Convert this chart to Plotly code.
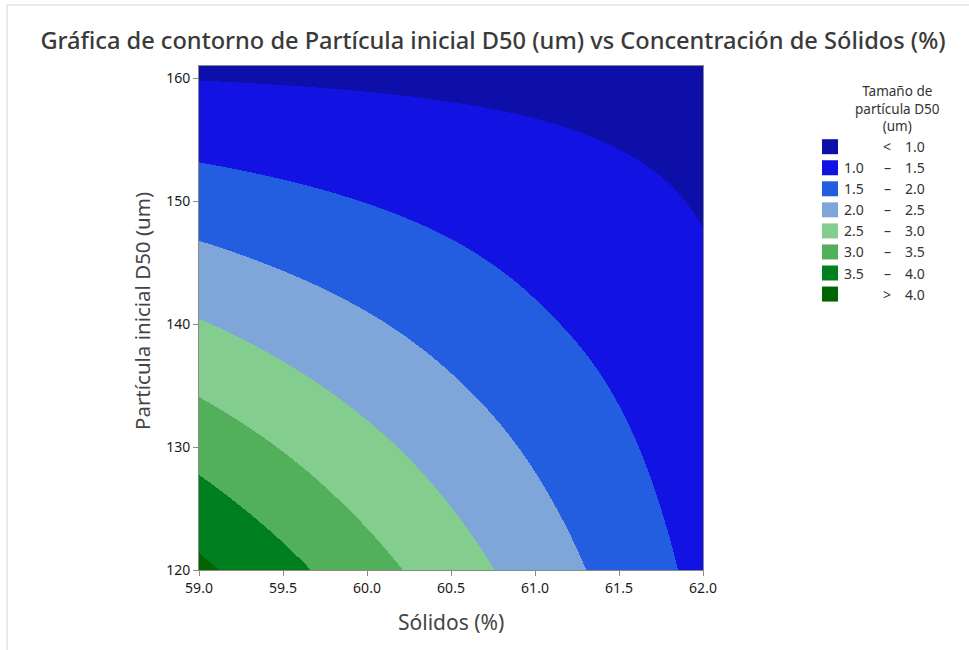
import plotly.graph_objects as go

# Grid of the response surface: Sólidos (%) on x, Partícula inicial D50 (um) on y
solidos = [59.0, 59.5, 60.0, 60.5, 61.0, 61.5, 62.0]
particula = [120, 125, 130, 135, 140, 145, 150, 155, 160, 161]

# Tamaño de partícula D50 (um), one row per value of `particula`
d50 = [
    [4.110, 3.652, 3.194, 2.736, 2.278, 1.820, 1.362],
    [3.717, 3.313, 2.910, 2.507, 2.104, 1.700, 1.297],
    [3.323, 2.975, 2.626, 2.278, 1.929, 1.581, 1.232],
    [2.930, 2.636, 2.342, 2.048, 1.755, 1.461, 1.167],
    [2.536, 2.297, 2.058, 1.819, 1.570, 1.335, 1.102],
    [2.143, 1.958, 1.774, 1.590, 1.400, 1.218, 1.037],
    [1.749, 1.620, 1.490, 1.361, 1.231, 1.102, 0.972],
    [1.360, 1.285, 1.210, 1.134, 1.058, 0.982, 0.907],
    [0.988, 0.966, 0.943, 0.918, 0.893, 0.868, 0.842],
    [0.905, 0.893, 0.881, 0.868, 0.856, 0.843, 0.829],
]

# contour bands (lower edge of each band, first band open below)
niveles = [0.5, 1.0, 1.5, 2.0, 2.5, 3.0, 3.5, 4.0, 4.5]
colores = ["#0E0EA8", "#1212E2", "#235EE0", "#7FA6D8",
           "#83CD8F", "#52AF5A", "#007F1E", "#006400"]
etiquetas_izq = ["", "1.0", "1.5", "2.0", "2.5", "3.0", "3.5", ""]
etiquetas_sep = ["<", "–", "–", "–", "–", "–", "–", ">"]
etiquetas_der = ["1.0", "1.5", "2.0", "2.5", "3.0", "3.5", "4.0", "4.0"]

xticks = [59.0, 59.5, 60.0, 60.5, 61.0, 61.5, 62.0]
yticks = [120, 130, 140, 150, 160]

W, H = 969, 650
L, R, T, B = 199, 703, 66, 570   # plot area in pixels

def px(x):
    return (x - L) / (R - L)

def py(y):
    return (B - y) / (B - T)

# stepwise colour scale: one flat colour per band
zmin, zmax = niveles[0], niveles[-1]
escala = []
for i, c in enumerate(colores):
    f0 = (niveles[i] - zmin) / (zmax - zmin)
    f1 = (niveles[i + 1] - zmin) / (zmax - zmin)
    escala += [[f0, c], [f1, c]]

# filled bands drawn from the bilinearly interpolated surface
fig = go.Figure(go.Heatmap(
    x=solidos, y=particula, z=d50,
    zmin=zmin, zmax=zmax, colorscale=escala,
    zsmooth="best", showscale=False, hoverinfo="skip",
))

font_ui = "Noto Sans, Open Sans, sans-serif"

fig.update_layout(
    width=W, height=H,
    margin=dict(l=L, r=W - R, t=T, b=H - B),
    paper_bgcolor="white", plot_bgcolor="white",
    font=dict(family=font_ui, color="#222222"),
    showlegend=False,
    title=dict(
        text="Gráfica de contorno de Partícula inicial D50 (um) vs Concentración de Sólidos (%)",
        x=493 / W, xanchor="center", y=1 - 41 / H, yanchor="middle",
        yref="container", xref="container",
        font=dict(size=23.6, color="#3a3a3a", family=font_ui, weight=500),
    ),
    xaxis=dict(
        range=[solidos[0], solidos[-1]], tickvals=xticks,
        ticktext=[f"{v:.1f}" for v in xticks],
        ticks="outside", ticklen=5, tickcolor="#8a8a8a",
        showline=True, linecolor="#8a8a8a", linewidth=1, mirror=True,
        showgrid=False, zeroline=False,
        tickfont=dict(size=14, color="#1a1a1a"),
    ),
    yaxis=dict(
        range=[particula[0], particula[-1]], tickvals=yticks,
        ticks="outside", ticklen=5, tickcolor="#8a8a8a",
        showline=True, linecolor="#8a8a8a", linewidth=1, mirror=True,
        showgrid=False, zeroline=False,
        tickfont=dict(size=14, color="#1a1a1a"),
    ),
)

anns = []
shapes = []

# axis titles
anns.append(dict(text="Sólidos (%)", x=px(451), y=py(622), xref="paper", yref="paper",
                 showarrow=False, xanchor="center", yanchor="middle",
                 font=dict(size=21, color="#444444")))
anns.append(dict(text="Partícula inicial D50 (um)", x=px(142), y=py(311),
                 xref="paper", yref="paper", textangle=-90,
                 showarrow=False, xanchor="center", yanchor="middle",
                 font=dict(size=20.5, color="#444444")))

# legend title
anns.append(dict(text="Tamaño de<br>partícula D50<br>(um)", x=px(897), y=py(108),
                 xref="paper", yref="paper", showarrow=False,
                 xanchor="center", yanchor="middle", align="center",
                 font=dict(size=13.5, color="#333333")))

# legend entries
for i, c in enumerate(colores):
    yc = 146.7 + i * 21.05
    shapes.append(dict(type="rect", xref="paper", yref="paper",
                       x0=px(822), x1=px(838), y0=py(yc + 7.5), y1=py(yc - 7.5),
                       fillcolor=c, line=dict(width=0)))
    if etiquetas_izq[i]:
        anns.append(dict(text=etiquetas_izq[i], x=px(866), y=py(yc), xref="paper",
                         yref="paper", showarrow=False, xanchor="right",
                         yanchor="middle", font=dict(size=14, color="#333333")))
    anns.append(dict(text=etiquetas_sep[i], x=px(887), y=py(yc), xref="paper",
                     yref="paper", showarrow=False, xanchor="center",
                     yanchor="middle", font=dict(size=14, color="#333333")))
    anns.append(dict(text=etiquetas_der[i], x=px(927), y=py(yc), xref="paper",
                     yref="paper", showarrow=False, xanchor="right",
                     yanchor="middle", font=dict(size=14, color="#333333")))

# outer frame (top and left edges)
shapes.append(dict(type="line", xref="paper", yref="paper",
                   x0=px(7), x1=px(W), y0=py(5), y1=py(5),
                   line=dict(color="#e2e2e2", width=1.5)))
shapes.append(dict(type="line", xref="paper", yref="paper",
                   x0=px(7), x1=px(7), y0=py(5), y1=py(H),
                   line=dict(color="#e2e2e2", width=1.5)))

fig.update_layout(annotations=anns, shapes=shapes)
fig.write_html("out.html")
